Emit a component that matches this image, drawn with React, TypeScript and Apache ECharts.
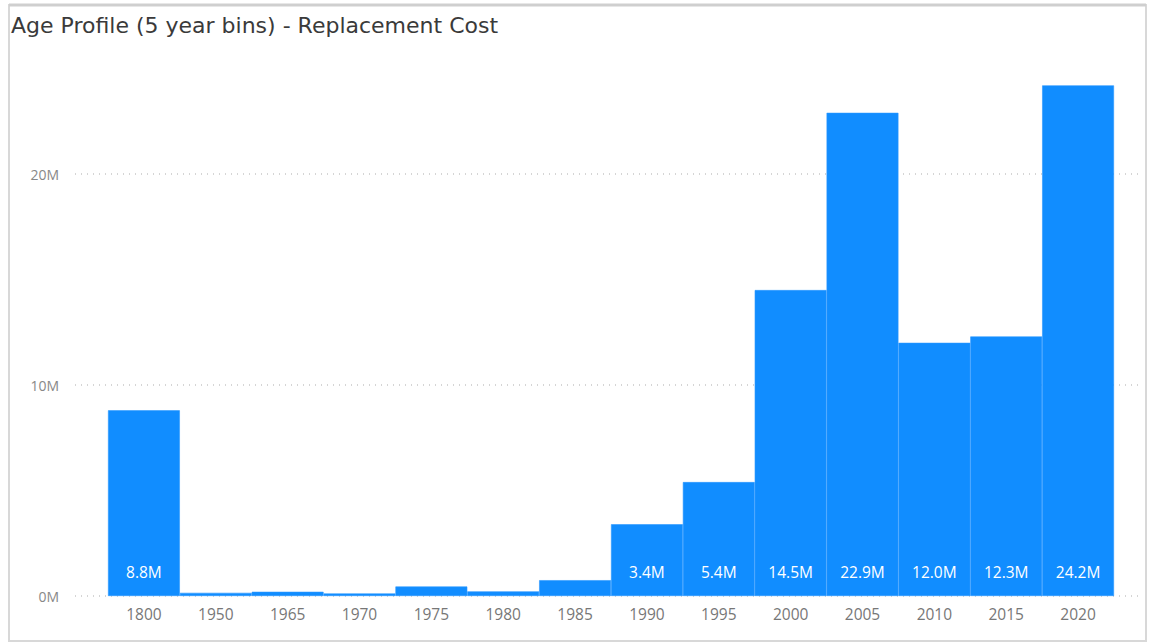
import React, { useEffect, useRef } from "react";
import * as echarts from "echarts";

// Replacement cost by construction year, 5-year bins
const categories = ["1800", "1950", "1965", "1970", "1975", "1980", "1985", "1990", "1995", "2000", "2005", "2010", "2015", "2020"];
const costMillions = [8.8, 0.15, 0.2, 0.12, 0.45, 0.22, 0.75, 3.4, 5.4, 14.5, 22.9, 12.0, 12.3, 24.2];
const yTicks = [0, 10, 20];

const TITLE = "Age Profile (5 year bins) - Replacement Cost";
const BAR_COLOR = "#118DFF";
const AXIS_FONT = "'Open Sans', 'Noto Sans', sans-serif";

export default function App() {
  const ref = useRef<HTMLDivElement>(null);

  useEffect(() => {
    if (!ref.current) return;
    const chart = echarts.init(ref.current, null, { renderer: "svg" });
    const values = costMillions.map((v) => v * 1e6);
    const scaleMax = 25e6;
    const baseline = 48; // distance from bottom of chart to zero line
    const pxPerMillion = 21.1;

    chart.setOption({
      animation: false,
      backgroundColor: "#ffffff",
      graphic: [
        {
          type: "rect",
          shape: { x: 9, y: 5, width: 1137, height: 636 },
          style: { fill: "none", stroke: "#d8d8d8", lineWidth: 2 },
          silent: true,
        },
        {
          type: "line",
          shape: { x1: 9, y1: 5, x2: 1146, y2: 5 },
          style: { stroke: "#cfcfcf", lineWidth: 3 },
          silent: true,
        },
        {
          type: "text",
          left: 11,
          top: 14,
          style: {
            text: TITLE,
            fontFamily: "'DejaVu Sans', sans-serif",
            fontSize: 22,
            fill: "#3a3a3a",
          },
        },
      ],
      grid: [
        // gridline / y-label grid
        { left: 75, right: 10, bottom: baseline, top: 644 - baseline - yTicks[yTicks.length - 1] * pxPerMillion },
        // bar grid, same vertical scale
        { left: 108, right: 36, bottom: baseline, top: 644 - baseline - (scaleMax / 1e6) * pxPerMillion },
      ],
      xAxis: [
        { type: "value", gridIndex: 0, show: false, min: 0, max: 1 },
        {
          type: "category",
          gridIndex: 1,
          data: categories,
          axisLine: { show: false },
          axisTick: { show: false },
          axisLabel: { color: "#777777", fontSize: 15.5, fontFamily: AXIS_FONT, margin: 10 },
        },
      ],
      yAxis: [
        {
          type: "value",
          gridIndex: 0,
          min: 0,
          max: yTicks[yTicks.length - 1] * 1e6,
          interval: 10e6,
          axisLine: { show: false },
          axisTick: { show: false },
          axisLabel: {
            color: "#888888",
            fontSize: 14,
            fontFamily: AXIS_FONT,
            margin: 16,
            formatter: (v: number) => `${Math.round(v / 1e6)}M`,
          },
          splitLine: { show: true, lineStyle: { color: "#c8c8c8", type: [1, 5], width: 1.5 } },
        },
        { type: "value", gridIndex: 1, min: 0, max: scaleMax, show: false },
      ],
      series: [
        {
          type: "bar",
          xAxisIndex: 1,
          yAxisIndex: 1,
          data: values,
          barCategoryGap: "0%",
          itemStyle: { color: BAR_COLOR, borderColor: "#2a97ff", borderWidth: 0.6 },
          label: {
            show: true,
            position: "insideBottom",
            distance: 16,
            color: "#ffffff",
            fontSize: 15.5,
            fontFamily: AXIS_FONT,
            formatter: (p: any) => (p.value >= 1e6 ? `${(p.value / 1e6).toFixed(1)}M` : ""),
          },
        },
      ],
    });

    return () => chart.dispose();
  }, []);

  return <div ref={ref} style={{ width: 1150, height: 644, position: "absolute", left: 0, top: 0 }} />;
}
